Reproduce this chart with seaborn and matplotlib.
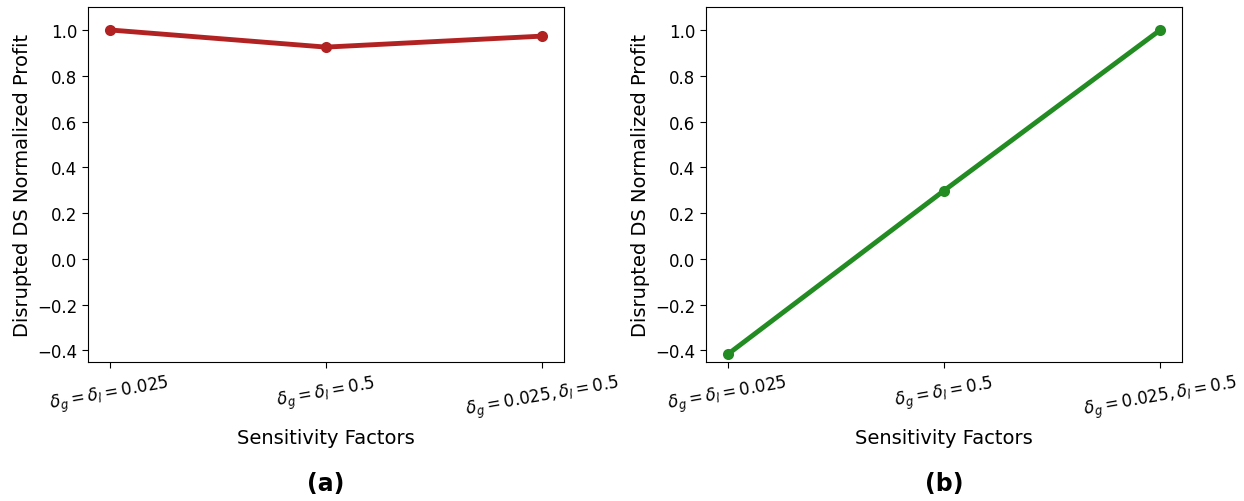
import matplotlib
matplotlib.use("Agg")
import matplotlib.pyplot as plt
import seaborn as sns

# sensitivity factor categories (mathtext labels)
factors = [r"$\delta_g = \delta_l = 0.025$",
           r"$\delta_g = \delta_l = 0.5$",
           r"$\delta_g = 0.025, \delta_l = 0.5$"]
profit_a = [1.0, 0.925, 0.973]
profit_b = [-0.417, 0.298, 1.0]
panel_names = ["(a)", "(b)"]
colors = ["firebrick", "forestgreen"]

sns.set_style("ticks", {"text.color": "black", "axes.labelcolor": "black",
                        "xtick.color": "black", "ytick.color": "black",
                        "axes.edgecolor": "black"})
plt.rcParams['font.family'] = ['DejaVu Sans']
plt.rcParams['xtick.major.size'] = 4
plt.rcParams['ytick.major.size'] = 4

fig = plt.figure(figsize=(12.44, 5.02), dpi=100)
ax_a = fig.add_axes([0.0707, 0.277, 0.3826, 0.707])
ax_b = fig.add_axes([0.5675, 0.277, 0.3826, 0.707])

for ax, vals, color, name in zip([ax_a, ax_b], [profit_a, profit_b], colors, panel_names):
    x = list(range(len(factors)))
    sns.lineplot(x=x, y=vals, ax=ax, color=color, linewidth=3.5,
                 marker="o", markersize=8, markeredgewidth=0)
    ax.set_xticks(x)
    ax.set_xticklabels(factors, rotation=10, fontsize=12)
    ax.set_ylim(-0.45, 1.1)
    ax.set_yticks([-0.4, -0.2, 0.0, 0.2, 0.4, 0.6, 0.8, 1.0])
    ax.tick_params(axis="y", labelsize=12)
    ax.set_xlabel("Sensitivity Factors", fontsize=14, labelpad=4)
    ax.set_ylabel("Disrupted DS Normalized Profit", fontsize=14)
    for s in ax.spines.values():
        s.set_visible(True)
        s.set_color("black")
    pos = ax.get_position()
    fig.text(pos.x0 + pos.width / 2, 0.035, name, ha="center", va="center",
             fontsize=17, fontweight="bold", color="black")

fig.savefig("out.png", dpi=100)
